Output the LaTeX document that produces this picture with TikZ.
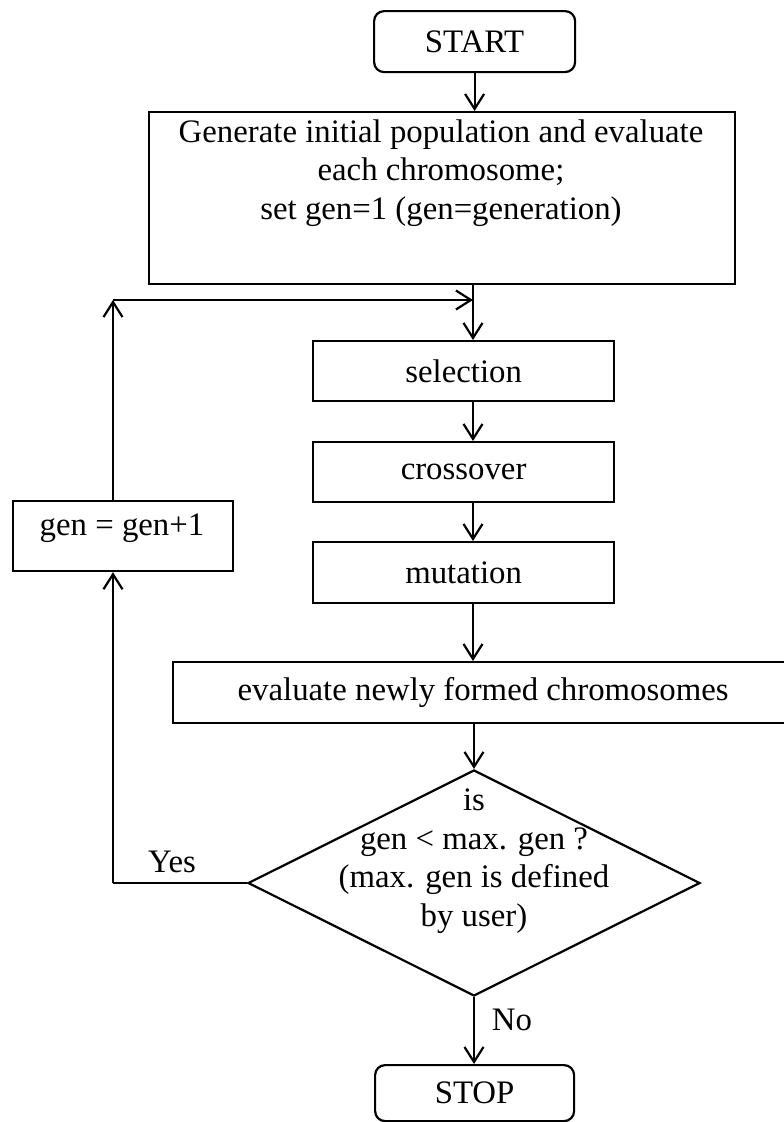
\documentclass[tikz,border=0pt]{standalone}
\usepackage{fontspec}
\setmainfont{Liberation Serif}
\usetikzlibrary{arrows.meta,shapes.geometric}
\begin{document}
\begin{tikzpicture}[x=1pt,y=-1pt,line width=2.2pt,
  font=\fontsize{32.8}{38.5}\selectfont,
  box/.style={draw,rectangle,inner sep=0pt,anchor=north west},
  term/.style={draw,rectangle,rounded corners=10pt,inner sep=0pt,anchor=north west},
  arr/.style={-{Straight Barb[length=15pt,width=19pt]}}]
\path[use as bounding box] (0,0) rectangle (784,1122);
\clip (0,0) rectangle (784,1122);
% nodes
\node[term,minimum width=201pt,minimum height=61pt] (start) at (373,10) {START};
\node[box,minimum width=586pt,minimum height=172pt] (init) at (148,111) {};
\node[align=center] (inittxt) at (441,173) {Generate initial population and evaluate\\each chromosome;\\set gen=1 (gen=generation)};
\node[box,minimum width=301pt,minimum height=60pt] (sel) at (312,340) {selection};
\node[box,minimum width=301pt,minimum height=60pt] (cross) at (312,441) {crossover};
\node[box,minimum width=301pt,minimum height=61pt] (mut) at (312,541) {mutation};
\node[box,minimum width=620pt,minimum height=61pt] (eval) at (172,661) {evaluate newly formed chromosomes};
\node[box,minimum width=220pt,minimum height=70pt] (gen) at (12,500) {};
\node (gentxt) at (122,528) {gen = gen+1};
\node[draw,diamond,minimum width=452pt,minimum height=226pt,inner sep=0pt] (dec) at (474,883) {};
\node[align=center] (dectxt) at (474,861) {is\\gen < max. gen ?\\(max. gen is defined\\by user)};
\node[term,minimum width=199pt,minimum height=56pt] (stop) at (374,1064) {STOP};
\node (yes) at (172,862) {Yes};
\node (no) at (512,1020) {No};
% coordinates
\coordinate (yescorner) at (113,883);
\coordinate (topcorner) at (113,300);
\coordinate (merge) at (473,300);
% connectors
\draw[arr] (start.south) -- (start.south |- init.north);
\draw[arr] (merge |- init.south) -- (merge |- sel.north);
\draw[arr] (merge |- sel.south) -- (merge |- cross.north);
\draw[arr] (merge |- cross.south) -- (merge |- mut.north);
\draw[arr] (merge |- mut.south) -- (merge |- eval.north);
\draw[arr] (dec.north |- eval.south) -- (dec.north);
\draw[arr] (dec.south) -- (dec.south |- stop.north);
\draw (dec.west) -- (yescorner);
\draw[arr] (yescorner) -- (yescorner |- gen.south);
\draw[arr] (topcorner |- gen.north) -- (topcorner);
\draw[arr] (topcorner) -- (merge);
\end{tikzpicture}
\end{document}
